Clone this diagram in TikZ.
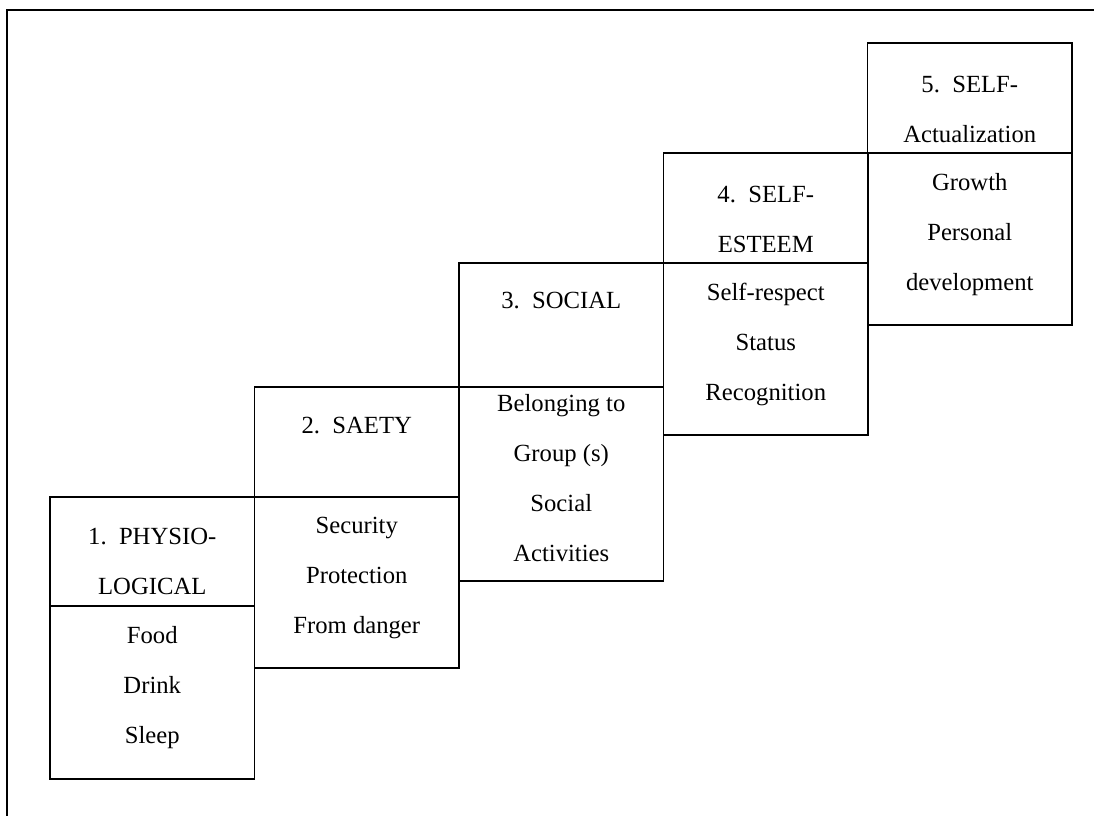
\documentclass[tikz,border=0pt]{standalone}
\usepackage{fontspec}
\setmainfont{Liberation Serif}
\usetikzlibrary{positioning}

\begin{document}
\begin{tikzpicture}[x=0.75pt,y=-0.75pt,line width=1.4pt]
    \tikzstyle{sec}=[draw, rectangle, anchor=north west, inner sep=0mm, outer sep=0mm, minimum width=153.4pt]
    \tikzstyle{txt}=[align=center, inner sep=0mm, outer sep=0mm, font=\fontsize{18.5}{37.5}\selectfont]
    \def\gap{\hspace{0.5em}}

    \useasboundingbox (0,0) rectangle (1094,816);

    % frame
    \coordinate (fbot) at (7,816);
    \coordinate (ftop) at (7,10);
    \coordinate (fright) at (1094,10);
    \draw (fbot) -- (ftop) -- (fright);

    % steps
    \foreach \n/\x/\t/\d/\b in {1/50/497/606/779, 2/254.5/387/497/668, 3/459/263/387/581, 4/663.5/153/263/435, 5/867.5/43/153/325} {
        \node[sec, minimum height={(\d-\t)*0.75pt}] (head\n) at (\x,\t) {};
        \node[sec, minimum height={(\b-\d)*0.75pt}] (body\n) at (\x,\d) {};
    }

    \node[txt, below=23.2pt of head1.north] (name1) {1.\gap PHYSIO-\\LOGICAL};
    \node[txt, below=15pt of body1.north] (need1) {Food\\Drink\\Sleep};

    \node[txt, below=22.5pt of head2.north] (name2) {2.\gap SAETY};
    \node[txt, below=15pt of body2.north] (need2) {Security\\Protection\\From danger};

    \node[txt, below=22pt of head3.north] (name3) {3.\gap SOCIAL};
    \node[txt, below=5.5pt of body3.north] (need3) {Belonging to\\Group (s)\\Social\\Activities};

    \node[txt, below=25.2pt of head4.north] (name4) {4.\gap SELF-\\ESTEEM};
    \node[txt, below=15pt of body4.north] (need4) {Self-respect\\Status\\Recognition};

    \node[txt, below=25.2pt of head5.north] (name5) {5.\gap SELF-\\Actualization};
    \node[txt, below=15pt of body5.north] (need5) {Growth\\Personal\\development};
\end{tikzpicture}
\end{document}
